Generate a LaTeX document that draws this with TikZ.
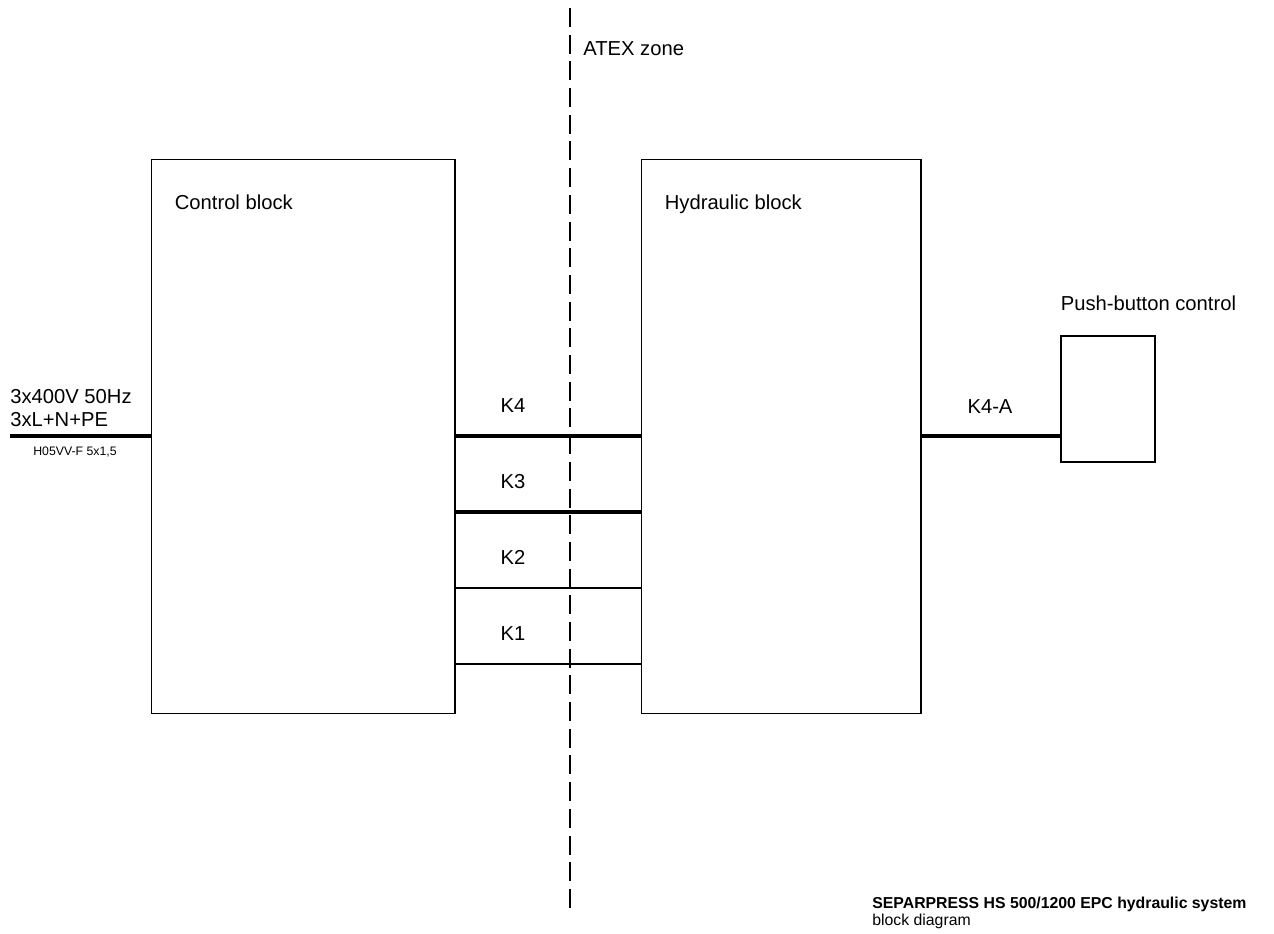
\documentclass[tikz,border=0pt]{standalone}
\usepackage{fontspec}
\setmainfont{Liberation Sans}
\usetikzlibrary{positioning, calc}

\begin{document}
\begin{tikzpicture}[
  x=0.02cm, y=-0.02cm,
  block/.style={rectangle, draw, line width=0.6pt, inner sep=0pt},
  lbl/.style={font=\fontsize{11.5}{14}\selectfont, inner sep=0pt, anchor=base west},
  klbl/.style={font=\fontsize{11.5}{14}\selectfont, inner sep=0pt, anchor=base},
  cable/.style={line width=#1},
  cable/.default=2.3pt,
  zone/.style={line width=1.6pt, dash pattern=on 0.38cm off 0.154cm},
]
  \useasboundingbox (0,0) rectangle (1274,933);

  % blocks
  \node[block, minimum width=6.08cm, minimum height=11.1cm] (ctrl) at (303,436.5) {};
  \node[block, minimum width=5.6cm, minimum height=11.1cm] (hyd) at (781,436.5) {};
  \node[block, minimum width=1.88cm, minimum height=2.52cm] (push) at (1108,399) {};
  \node[lbl] (ctrltxt) at ([xshift=0.48cm, yshift=-1.02cm]ctrl.north west) {Control block};
  \node[lbl] (hydtxt) at ([xshift=0.48cm, yshift=-1.02cm]hyd.north west) {Hydraulic block};
  \node[lbl] (pushtxt) at ([yshift=0.5cm]push.north west) {Push-button control};

  % ATEX boundary
  \coordinate (zonetop) at (570,8);
  \coordinate (zonebot) at (570,908);
  \draw[zone] (zonetop) -- (zonebot);
  \node[lbl] (zonetxt) at (583,55) {ATEX zone};

  % mains supply
  \coordinate (mains) at (10,436);
  \draw[cable] (mains) -- (mains -| ctrl.west);
  \node[lbl] (volt) at (10,403) {3x400V 50Hz};
  \node[lbl] (cond) at (10,426) {3xL+N+PE};
  \node[lbl, font=\fontsize{7}{8}\selectfont] (cabletype) at (33,455) {H05VV-F 5x1,5};

  % cables between blocks
  \foreach \k/\y/\w in {4/436/2.3pt, 3/512/2.3pt, 2/588/1.3pt, 1/664/1.3pt} {
    \draw[cable=\w] (ctrl.east |- 0,\y) -- (hyd.west |- 0,\y);
    \node[klbl] (k\k) at (513,\y-24) {K\k};
  }
  \draw[cable] (hyd.east |- 0,436) -- (push.west |- 0,436);
  \node[klbl] (k4a) at (990,413) {K4-A};

  % title
  \node[lbl, font=\fontsize{9}{11}\selectfont\bfseries] (title) at (872,908) {SEPARPRESS HS 500/1200 EPC hydraulic system};
  \node[lbl, font=\fontsize{9}{11}\selectfont] (subtitle) at (872,925) {block diagram};
\end{tikzpicture}
\end{document}
